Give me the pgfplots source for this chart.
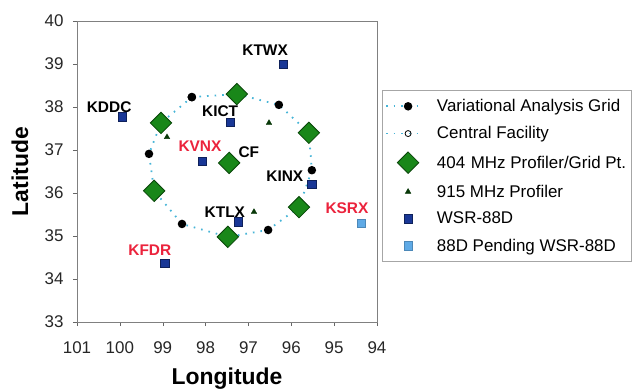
\documentclass[border=0pt]{standalone}
\usepackage{pgfplots}
\pgfplotsset{compat=1.18}
\usepackage{fontspec}
\setmainfont{Liberation Sans}
\definecolor{ringcol}{RGB}{70,180,215}
\definecolor{dgreen}{RGB}{25,135,25}
\definecolor{dgreenb}{RGB}{10,70,10}
\definecolor{dblue}{RGB}{25,55,150}
\definecolor{lblue}{RGB}{95,170,230}
\definecolor{lred}{RGB}{235,35,60}
\pgfdeclareplotmark{bigdiamond}{%
  \pgfpathmoveto{\pgfqpoint{0pt}{\pgfplotmarksize}}%
  \pgfpathlineto{\pgfqpoint{\pgfplotmarksize}{0pt}}%
  \pgfpathlineto{\pgfqpoint{0pt}{-\pgfplotmarksize}}%
  \pgfpathlineto{\pgfqpoint{-\pgfplotmarksize}{0pt}}%
  \pgfpathclose\pgfusepathqfillstroke}
\pgfplotsset{legend image code/.code={%
  \draw[mark repeat=2,mark phase=2,#1] plot coordinates {(0bp,0bp) (22bp,0bp) (36bp,0bp)};}}
\begin{document}
\begin{tikzpicture}
\useasboundingbox (0,0) rectangle (634bp,391bp);
\begin{axis}[
  at={(77bp,69bp)}, anchor=south west,
  width=300bp, height=301bp, scale only axis,
  xmin=94, xmax=101, ymin=33, ymax=40, x dir=reverse,
  xtick={94,...,101}, ytick={33,...,40},
  tick align=outside, major tick length=4bp,
  xtick pos=bottom, ytick pos=left,
  axis line style={gray}, tick style={gray!80!black},
  ticklabel style={font=\fontsize{17}{19}\selectfont, text=black!85},
  xticklabel style={yshift=-12bp},
  yticklabel style={xshift=-6bp},
  /pgf/number format/assume math mode=true,
  xlabel={Longitude}, ylabel={Latitude},
  label style={font=\bfseries\fontsize{23}{26}\selectfont},
  xlabel style={at={(axis description cs:0.5,-0.188)}, anchor=center},
  ylabel style={at={(axis description cs:-0.19,0.5)}, anchor=center},
  legend cell align=left,
  legend style={at={(axis description cs:1.0167,0.77)}, anchor=north west,
    draw=gray!70, fill=white, font=\fontsize{17}{19}\selectfont,
    row sep=9.5bp, inner xsep=3bp, inner ysep=7bp,
    /tikz/every odd column/.append style={column sep=12bp}},
]
% Variational analysis grid (ring)
\addplot[color=ringcol, line width=1.8bp, dash pattern=on 1.6bp off 6bp,
  mark=*, mark size=3.3bp, mark options={solid, fill=black, draw=black}]
coordinates {
(98.32,38.23) (97.27,38.30) (96.29,38.05) (95.59,37.40) (95.52,36.53) (95.82,35.67)
(96.54,35.14) (97.48,34.98) (98.55,35.28) (99.20,36.05) (99.32,36.91) (99.04,37.63)
(98.32,38.23)};
\addlegendentry{Variational Analysis Grid}
% Central facility
\addplot[color=ringcol, line width=1.8bp, dash pattern=on 1.6bp off 6bp,
  mark=o, mark size=3bp, mark options={solid, draw=black, fill=white, line width=0.8bp}]
coordinates {(97.45,36.70)};
\addlegendentry{Central Facility}
% 404 MHz profilers
\addplot[only marks, mark=bigdiamond, mark size=10.7bp,
  mark options={fill=dgreen, draw=dgreenb, line width=0.8bp}]
coordinates {
(97.27,38.30) (95.59,37.40) (95.82,35.67) (97.48,34.98) (99.20,36.05) (99.04,37.63)
(97.45,36.70)};
\addlegendentry{404\,\,MHz Profiler/Grid Pt.}
% 915 MHz profilers
\addplot[only marks, mark=triangle*, mark size=3.2bp,
  mark options={fill=dgreenb!80!black, draw=dgreenb!80!black}]
coordinates {(98.90,37.30) (96.52,37.63) (96.87,35.56)};
\addlegendentry{915 MHz Profiler}
% WSR-88D
\addplot[only marks, mark=square*, mark size=4.2bp,
  mark options={fill=dblue, draw=dblue!60!black, line width=0.5bp}]
coordinates {(96.19,39.00) (99.95,37.77) (97.43,37.65) (98.08,36.74) (95.52,36.21)
(97.24,35.33) (98.95,34.37)};
\addlegendentry{WSR-88D}
% Pending
\addplot[only marks, mark=square*, mark size=4.2bp,
  mark options={fill=lblue, draw=lblue!80!black, line width=0.5bp}]
coordinates {(94.37,35.30)};
\addlegendentry{88D Pending WSR-88D}
% station labels
\begin{scope}[every node/.style={font=\bfseries\fontsize{15.5}{17}\selectfont}]
\node at (axis cs:96.61,39.33) {KTWX};
\node at (axis cs:100.25,38.00) {KDDC};
\node at (axis cs:97.66,37.91) {KICT};
\node[text=lred] at (axis cs:98.13,37.09) {KVNX};
\node at (axis cs:96.99,36.95) {CF};
\node at (axis cs:96.15,36.40) {KINX};
\node at (axis cs:97.55,35.56) {KTLX};
\node[text=lred] at (axis cs:99.30,34.67) {KFDR};
\node[text=lred] at (axis cs:94.70,35.65) {KSRX};
\end{scope}
\end{axis}
\end{tikzpicture}
\end{document}
